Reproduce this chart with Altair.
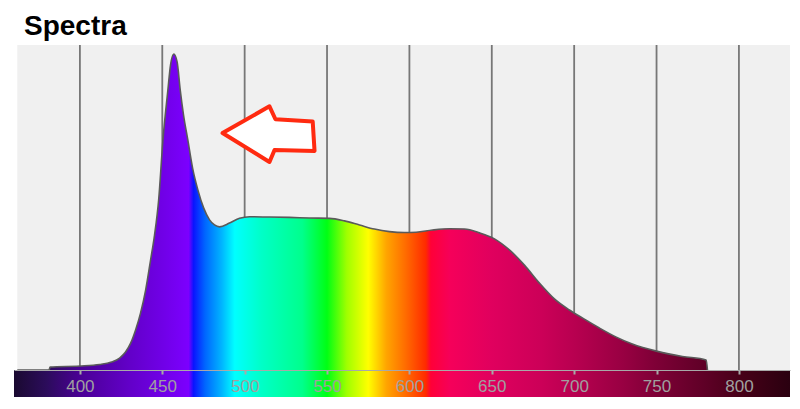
import altair as alt
import pandas as pd

# ---- data ----
wavelength = [362, 381.3, 381.9, 399.8, 412.0, 419.2, 424.1, 427.7, 430.8, 433.8, 436.8, 439.9,
              442.9, 445.3, 447.8, 450.4, 453.4, 455.0, 457.0, 459.0, 460.9, 462.9, 465.5,
              468.4, 471.6, 475.1, 478.7, 481.7, 484.8, 490.8, 496.9, 503.0, 515.1, 527.2,
              539.4, 551.5, 560.6, 569.7, 578.8, 587.9, 597.0, 604.1, 614.0, 624.3, 633.4,
              642.5, 651.6, 660.7, 669.8, 678.9, 688.0, 697.1, 706.2, 715.3, 725.6, 735.3,
              750.5, 765.7, 780.1, 780.9]
intensity = [0, 0, 0.95, 1.27, 1.74, 2.53, 3.8, 5.7, 8.5, 12.7, 18.0, 25.3,
             34.8, 42.7, 53.8, 72.8, 88.6, 96.5, 100, 97.5, 88.6, 80.7, 72.8,
             63.9, 57.0, 51.3, 47.5, 45.9, 45.3, 46.5, 48.0, 48.5, 48.4, 48.3,
             48.1, 48.0, 47.2, 45.9, 44.6, 43.8, 43.5, 43.6, 44.3, 44.7, 44.6,
             43.4, 41.5, 38.0, 33.2, 27.5, 22.5, 19.0, 16.1, 13.3, 10.4, 8.2,
             5.9, 4.3, 3.2, 0]

tick_values = [400, 450, 500, 550, 600, 650, 700, 750, 800]

spec_nm = [360, 380, 400, 430, 450, 466, 469, 476, 486, 494, 510, 535, 550, 562,
           575, 586, 598, 610, 613, 625, 650, 680, 700, 730, 750, 780, 800, 831]
spec_col = ["#1a0a30", "#2c0c5c", "#4a0095", "#6200c8", "#7000e6", "#7c00ff", "#0a14ff",
            "#0066ff", "#00b4ff", "#00ffff", "#00ffc8", "#00ff8c", "#00ff14", "#a0ff00",
            "#ffff00", "#ffa500", "#ff6a00", "#ff2a00", "#ff0038", "#f5005a", "#e0005e",
            "#cc0058", "#b80050", "#980042", "#7e0036", "#5e0026", "#480018", "#2a0010"]

title_text = "Spectra"

x_domain = [360, 831]
y_domain = [-8.54, 102.85]
plot_band = [362, 831]
bar_band = [360, 831]
arrow_at = [514.5, 74.7]  # wavelength, intensity of the arrow's centre

arrow_path = ("M -1 -0.02 L 0.02 -0.6 L 0.15 -0.32 L 0.96 -0.27 L 1.0 0.37 "
              "L 0.13 0.35 L 0.02 0.61 Z")


def stops(lo, hi):
    out = []
    for nm, c in zip(spec_nm, spec_col):
        if lo <= nm <= hi:
            out.append(alt.GradientStop(offset=round((nm - lo) / (hi - lo), 4), color=c))
    return out


def grad(lo, hi):
    return alt.Gradient(gradient="linear", stops=stops(lo, hi), x1=0, x2=1, y1=0, y2=0)


xs = alt.Scale(domain=x_domain, nice=False, zero=False)
ys = alt.Scale(domain=y_domain, nice=False, zero=False)
xaxis = alt.Axis(values=tick_values, orient="bottom", offset=-27, grid=False,
                 domainColor="#a8a8a8", domainWidth=1, tickColor="#a8a8a8", tickWidth=2,
                 tickSize=4, labelColor="#a0a0a0", labelFontSize=17,
                 labelFont="Liberation Sans", labelPadding=4, title=None, zindex=1,
                 labelFlush=False, labelOverlap=False, format="d")

spec = pd.DataFrame({"nm": wavelength, "v": intensity, "base": [0] * len(wavelength)})

bg = alt.Chart(pd.DataFrame({"nm": [plot_band[0]], "nm2": [plot_band[1]],
                             "y0": [0], "y1": [y_domain[1]]})).mark_rect(
    fill="#f0f0f0").encode(
    x=alt.X("nm:Q", scale=xs, axis=xaxis), x2="nm2:Q",
    y=alt.Y("y0:Q", scale=ys, axis=None), y2="y1:Q")

grid = alt.Chart(pd.DataFrame({"nm": tick_values, "y0": [0] * len(tick_values),
                               "y1": [y_domain[1]] * len(tick_values)})).mark_rule(
    color="#777777", strokeWidth=1.8).encode(
    x=alt.X("nm:Q", scale=xs, axis=xaxis),
    y=alt.Y("y0:Q", scale=ys, axis=None), y2="y1:Q")

area = alt.Chart(spec).mark_area(
    fill=grad(min(wavelength), max(wavelength)), interpolate="monotone").encode(
    x=alt.X("nm:Q", scale=xs, axis=xaxis),
    y=alt.Y("v:Q", scale=ys, axis=None), y2="base:Q")

line = alt.Chart(spec).mark_line(color="#5a5a5a", strokeWidth=1.6,
                                 interpolate="monotone").encode(
    x=alt.X("nm:Q", scale=xs, axis=xaxis),
    y=alt.Y("v:Q", scale=ys, axis=None))

bar = alt.Chart(pd.DataFrame({"nm": [bar_band[0]], "nm2": [bar_band[1]],
                              "y0": [y_domain[0]], "y1": [0]})).mark_rect(
    fill=grad(bar_band[0], bar_band[1])).encode(
    x=alt.X("nm:Q", scale=xs, axis=xaxis), x2="nm2:Q",
    y=alt.Y("y0:Q", scale=ys, axis=None), y2="y1:Q")

arrow = alt.Chart(pd.DataFrame({"nm": [arrow_at[0]], "v": [arrow_at[1]]})).mark_point(
    shape=arrow_path, size=8464, fill="white", stroke="#ff2a10", strokeWidth=4,
    strokeJoin="round", opacity=1, fillOpacity=1, strokeOpacity=1, filled=True).encode(
    x=alt.X("nm:Q", scale=xs, axis=xaxis),
    y=alt.Y("v:Q", scale=ys, axis=None))

title = alt.Chart(pd.DataFrame({"t": [title_text]})).mark_text(
    align="left", baseline="alphabetic", font="Liberation Sans", fontSize=28,
    fontWeight="bold", color="black").encode(
    text="t:N", x=alt.value(10), y=alt.value(-10))

chart = alt.layer(bg, grid, area, line, bar, arrow, title).properties(
    width=776, height=352,
    padding={"left": 6, "top": 37, "right": 2, "bottom": 4},
    autosize=alt.AutoSizeParams(type="none"),
    background="white",
).configure_view(stroke=None)

chart.save("out.html", embed_options={"renderer": "svg", "actions": False})
